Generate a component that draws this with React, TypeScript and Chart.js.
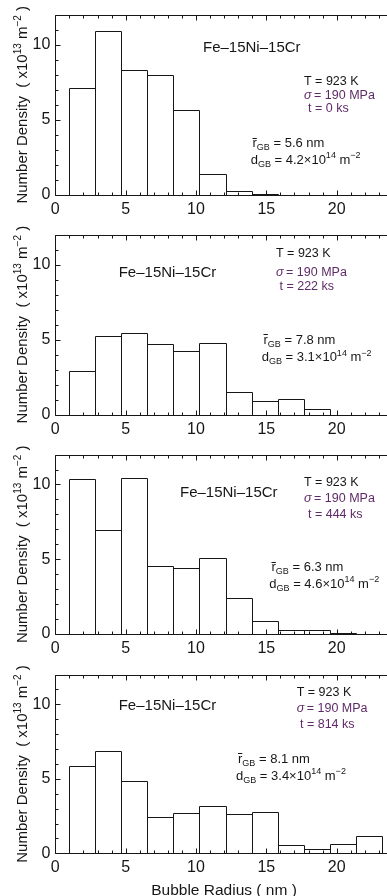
import React, { useEffect, useRef } from 'react';
import { Chart, registerables } from 'chart.js';

Chart.register(...registerables);

const FONT = '"Liberation Sans", Arial, Helvetica, sans-serif';

// ---- data ----
const binCenters = [1.925, 3.775, 5.625, 7.475, 9.325, 11.175, 13.025, 14.875, 16.725, 18.575, 20.425, 22.275];
const density0ks = [7.1, 10.9, 8.33, 7.96, 5.63, 1.43, 0.24, 0.09, 0, 0, 0, 0];
const density222ks = [2.88, 5.22, 5.43, 4.7, 4.24, 4.81, 1.54, 0.91, 1.06, 0.39, 0, 0];
const density444ks = [10.39, 6.95, 10.43, 4.57, 4.42, 5.06, 2.42, 0.87, 0.28, 0.28, 0.09, 0];
const density814ks = [5.84, 6.9, 4.85, 2.47, 2.71, 3.18, 2.66, 2.77, 0.58, 0.3, 0.65, 1.17];
const agingTimes = ['0', '222', '444', '814'];
const meanRadii = ['5.6', '7.8', '6.3', '8.1'];
const gbDensities = ['4.2', '3.1', '4.6', '3.4'];
const xTickValues = [0, 5, 10, 15, 20];
const yTickValues = [0, 5, 10];
const alloyName = 'Fe–15Ni–15Cr';
const tempLabel = 'T = 923 K';
const stressLabel = '= 190 MPa';
const xTitle = 'Bubble Radius ( nm )';
const X_MAX = 23.58;
const Y_MAX = 12;

const seriesList = [density0ks, density222ks, density444ks, density814ks];

// ---- layout (pixels) ----
type Pt = { x: number; cy: number };
type PanelLayout = {
  top: number; height: number; areaTop: number; areaBottom: number;
  alloy: Pt; T: Pt; s: Pt; t: Pt; r: Pt; d: Pt; xTitle?: boolean;
};
const PANELS: PanelLayout[] = [
  { top: 0, height: 220, areaTop: 12, areaBottom: 195,
    alloy: { x: 203, cy: 46.7 }, T: { x: 304, cy: 80.7 }, s: { x: 304, cy: 94.3 }, t: { x: 308, cy: 108 },
    r: { x: 252.5, cy: 142.7 }, d: { x: 250.7, cy: 159 } },
  { top: 220, height: 220, areaTop: 12, areaBottom: 194.7,
    alloy: { x: 118.7, cy: 51.7 }, T: { x: 276, cy: 32.3 }, s: { x: 276, cy: 51.7 }, t: { x: 279.5, cy: 65.7 },
    r: { x: 263.5, cy: 119 }, d: { x: 261.7, cy: 136.7 } },
  { top: 440, height: 220, areaTop: 10, areaBottom: 194,
    alloy: { x: 180, cy: 51.7 }, T: { x: 304, cy: 41.7 }, s: { x: 304, cy: 57.7 }, t: { x: 308, cy: 73.3 },
    r: { x: 271.5, cy: 126.7 }, d: { x: 269.3, cy: 143.3 } },
  { top: 660, height: 236, areaTop: 10, areaBottom: 193.3,
    alloy: { x: 118.7, cy: 45 }, T: { x: 296.7, cy: 31.7 }, s: { x: 296.7, cy: 47.7 }, t: { x: 300, cy: 63.3 },
    r: { x: 238, cy: 98.3 }, d: { x: 236, cy: 115 }, xTitle: true },
];

const INK = '#161616';
const PURPLE = '#5f2a68';

type Seg = { t: string; s?: number; dy?: number; it?: boolean; bar?: boolean };

function richWidth(ctx: CanvasRenderingContext2D, segs: Seg[], base: number) {
  let w = 0;
  for (const sg of segs) {
    ctx.font = `${sg.it ? 'italic ' : ''}${sg.s ?? base}px ${FONT}`;
    w += ctx.measureText(sg.t).width;
  }
  return w;
}

function drawRich(ctx: CanvasRenderingContext2D, x: number, y: number, segs: Seg[], base: number, color: string) {
  let cx = x;
  ctx.fillStyle = color;
  ctx.strokeStyle = color;
  ctx.textBaseline = 'alphabetic';
  ctx.textAlign = 'left';
  for (const sg of segs) {
    const size = sg.s ?? base;
    ctx.font = `${sg.it ? 'italic ' : ''}${size}px ${FONT}`;
    ctx.fillText(sg.t, cx, y + (sg.dy ?? 0));
    const w = ctx.measureText(sg.t).width;
    if (sg.bar) {
      ctx.lineWidth = 1;
      ctx.beginPath();
      const by = Math.round(y - size * 0.74) + 0.5;
      ctx.moveTo(cx, by);
      ctx.lineTo(cx + w, by);
      ctx.stroke();
    }
    cx += w;
  }
}

const baseline = (cy: number, size: number) => cy + size * 0.358;

function makePlugin(p: PanelLayout, idx: number, values: number[]) {
  return {
    id: 'panelDecor' + idx,
    afterDatasetsDraw(chart: any) {
      const ctx: CanvasRenderingContext2D = chart.ctx;
      const area = chart.chartArea;
      const xs = chart.scales.x;
      const ys = chart.scales.y;
      ctx.save();
      // bar outlines
      ctx.strokeStyle = INK;
      ctx.lineWidth = 1;
      const meta = chart.getDatasetMeta(0);
      meta.data.forEach((el: any, i: number) => {
        if (!values[i]) return;
        const { x, y, base, width } = el.getProps(['x', 'y', 'base', 'width'], true);
        if (!isFinite(y)) return;
        const l = Math.round(x - width / 2) + 0.5;
        const r = Math.round(x + width / 2) + 0.5;
        const t = Math.round(y) + 0.5;
        const b = Math.round(base);
        ctx.beginPath();
        ctx.moveTo(l, b);
        ctx.lineTo(l, t);
        ctx.lineTo(r, t);
        ctx.lineTo(r, b);
        ctx.stroke();
      });
      // frame
      const L = Math.round(area.left) + 0.5;
      const T = Math.round(area.top) + 0.5;
      const B = Math.round(area.bottom) + 0.5;
      const R = area.right + 1;
      ctx.strokeStyle = INK;
      ctx.lineWidth = 1;
      ctx.beginPath();
      ctx.moveTo(R, T); ctx.lineTo(L, T); ctx.lineTo(L, B); ctx.lineTo(R, B);
      ctx.stroke();
      // ticks (inward)
      ctx.beginPath();
      for (let v = 0; v <= X_MAX; v += 1) {
        const px = Math.round(xs.getPixelForValue(v)) + 0.5;
        const len = v % 5 === 0 ? 5 : 3;
        ctx.moveTo(px, B); ctx.lineTo(px, B - len);
        ctx.moveTo(px, T); ctx.lineTo(px, T + len);
      }
      for (let v = 0; v <= Y_MAX; v += 1) {
        const py = Math.round(ys.getPixelForValue(v)) + 0.5;
        const len = v % 5 === 0 ? 5 : 3;
        ctx.moveTo(L, py); ctx.lineTo(L + len, py);
      }
      ctx.stroke();
      ctx.restore();
    },
    afterDraw(chart: any) {
      const ctx: CanvasRenderingContext2D = chart.ctx;
      const area = chart.chartArea;
      ctx.save();
      // y title (rotated)
      const ySegs: Seg[] = [
        { t: 'Number Density  ( x10' }, { t: '13', s: 10, dy: -6 }, { t: ' m' }, { t: '−2', s: 10, dy: -6 }, { t: ' )' },
      ];
      const yw = richWidth(ctx, ySegs, 15);
      ctx.translate(26.7, (area.top + area.bottom) / 2);
      ctx.rotate(-Math.PI / 2);
      drawRich(ctx, -yw / 2, 0, ySegs, 15, INK);
      ctx.restore();
      ctx.save();
      // annotations
      drawRich(ctx, p.alloy.x, baseline(p.alloy.cy, 15), [{ t: alloyName }], 15, INK);
      drawRich(ctx, p.T.x, baseline(p.T.cy, 12.5), [{ t: tempLabel }], 12.5, INK);
      drawRich(ctx, p.s.x, baseline(p.s.cy, 12.5), [{ t: 'σ', it: true }, { t: '\u2009' + stressLabel }], 12.5, PURPLE);
      drawRich(ctx, p.t.x, baseline(p.t.cy, 12.5), [{ t: `t = ${agingTimes[idx]} ks` }], 12.5, PURPLE);
      drawRich(ctx, p.r.x, baseline(p.r.cy, 13), [
        { t: 'r', bar: true }, { t: 'GB', s: 9, dy: 3 }, { t: ` = ${meanRadii[idx]} nm` },
      ], 13, INK);
      drawRich(ctx, p.d.x, baseline(p.d.cy, 13), [
        { t: 'd' }, { t: 'GB', s: 9, dy: 3 }, { t: ` = ${gbDensities[idx]}×10` }, { t: '14', s: 9, dy: -5.5 },
        { t: ' m' }, { t: '−2', s: 9, dy: -5.5 },
      ], 13, INK);
      if (p.xTitle) {
        ctx.font = `15.5px ${FONT}`;
        ctx.fillStyle = INK;
        ctx.textAlign = 'center';
        ctx.textBaseline = 'alphabetic';
        ctx.fillText(xTitle, 224, 235);
      }
      ctx.restore();
    },
  };
}

function Panel({ p, idx }: { p: PanelLayout; idx: number }) {
  const ref = useRef<HTMLCanvasElement | null>(null);
  useEffect(() => {
    if (!ref.current) return;
    const values = seriesList[idx];
    const chart = new Chart(ref.current, {
      type: 'bar',
      data: {
        datasets: [{
          data: binCenters.map((x, i) => ({ x, y: values[i] === 0 ? null : values[i] })) as any,
          backgroundColor: '#ffffff',
          borderWidth: 0,
          barPercentage: 1,
          categoryPercentage: 1,
          inflateAmount: 0,
        } as any],
      },
      options: {
        responsive: false,
        animation: false,
        devicePixelRatio: 1,
        layout: { padding: { top: p.areaTop, left: 0, right: 0, bottom: 0 } },
        plugins: { legend: { display: false }, tooltip: { enabled: false }, title: { display: false } },
        events: [],
        scales: {
          x: {
            type: 'linear', min: 0, max: X_MAX, offset: false,
            grid: { display: false, drawTicks: false, offset: false },
            border: { display: false },
            ticks: { font: { size: 16, family: FONT }, color: INK, padding: 5, maxRotation: 0, autoSkip: false },
            afterBuildTicks: (s: any) => { s.ticks = xTickValues.map((v) => ({ value: v })); },
            afterFit: (s: any) => { s.height = p.height - p.areaBottom; },
          },
          y: {
            type: 'linear', min: 0, max: Y_MAX,
            grid: { display: false, drawTicks: false },
            border: { display: false },
            ticks: { font: { size: 16, family: FONT }, color: INK, padding: 5 },
            afterBuildTicks: (s: any) => { s.ticks = yTickValues.map((v) => ({ value: v })); },
            afterFit: (s: any) => { s.width = 55.3; },
          },
        },
      } as any,
      plugins: [makePlugin(p, idx, values)],
    });
    return () => chart.destroy();
  }, [p, idx]);
  return (
    <canvas
      ref={ref}
      width={387}
      height={p.height}
      style={{ position: 'absolute', left: 0, top: p.top, width: 387, height: p.height, display: 'block' }}
    />
  );
}

export default function App() {
  return (
    <div style={{ position: 'absolute', left: 0, top: 0, width: 387, height: 896, background: '#fff', overflow: 'hidden' }}>
      {PANELS.map((p, i) => (
        <Panel key={i} p={p} idx={i} />
      ))}
    </div>
  );
}
